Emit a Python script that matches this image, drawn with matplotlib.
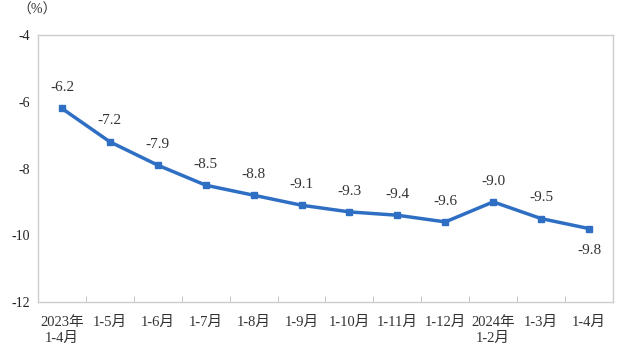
import matplotlib
matplotlib.use('Agg')
import matplotlib.pyplot as plt

# categories and values
categories = ['2023年\n1-4月', '1-5月', '1-6月', '1-7月', '1-8月', '1-9月', '1-10月',
              '1-11月', '1-12月', '2024年\n1-2月', '1-3月', '1-4月']
values = [-6.2, -7.2, -7.9, -8.5, -8.8, -9.1, -9.3, -9.4, -9.6, -9.0, -9.5, -9.8]
yticks = [-4, -6, -8, -10, -12]

fam = ['Liberation Serif', 'Noto Sans CJK SC', 'DejaVu Sans']
plt.rcParams['font.family'] = fam

fig = plt.figure(figsize=(6.3, 3.61), dpi=100)
ax = fig.add_axes([0.0603, 0.1634, 0.9127, 0.7396])

x = list(range(len(values)))
ax.plot(x, values, color='#2E6FC4', linewidth=2.5, marker='s', markersize=5)

for i, v in enumerate(values):
    if i == len(values) - 1:
        ax.annotate(f'{v:.1f}', (i, v), xytext=(0, -16), textcoords='offset points',
                    ha='center', va='center', fontsize=11, color='#333333')
    else:
        ax.annotate(f'{v:.1f}', (i, v), xytext=(0, 15), textcoords='offset points',
                    ha='center', va='center', fontsize=11, color='#333333')

ax.set_xlim(-0.5, len(values) - 0.5)
ax.set_ylim(-12, -4)
ax.set_yticks(yticks)
ax.set_yticklabels([str(t) for t in yticks], fontsize=10, color='#222222')
ax.set_xticks(x)
ax.set_xticklabels(categories, fontsize=10.5, color='#333333', linespacing=1.25)
ax.tick_params(axis='y', length=0, pad=6)
ax.tick_params(axis='x', length=0, pad=10)
ax.set_xticks([i + 0.5 for i in range(len(values) - 1)], minor=True)
ax.tick_params(axis='x', which='minor', direction='in', length=4, color='#bbbbbb')
for s in ax.spines.values():
    s.set_color('#cccccc')
    s.set_linewidth(1)

fig.text(0.027, 0.972, '（%）', fontsize=10, color='#333333', ha='left', va='center')

fig.savefig('out.png', dpi=100)
